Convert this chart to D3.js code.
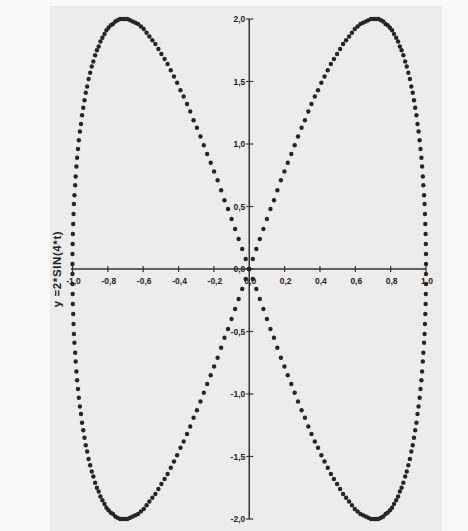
<!DOCTYPE html>
<html>
<head>
<meta charset="utf-8">
<script src="https://cdn.jsdelivr.net/npm/d3@7"></script>
<style>
  body { margin: 0; background: #fafafa; }
  svg { display: block; }
  .tick-lbl { font-family: "Liberation Sans", Arial, sans-serif; font-size: 8.5px; font-weight: bold; fill: #222; }
</style>
</head>
<body>
<div id="graf"></div>
<script>
// puntos de la curva (cuatro arcos)
const rightX = [0,.02,.04,.06,.08,.1,.12,.14,.159,.179,.199,.218,.238,.257,.276,.296,.315,.334,.352,.371,.389,.408,.426,.444,.462,.479,.497,.514,.531,.548,.565,.581,.597,.613,.629,.644,.659,.674,.689,.703,.717,.731,.745,.758,.771,.783,.796,.808,.819,.831,.842,.852,.862,.872,.882,.891,.9,.909,.917,.925,.932,.939,.946,.952,.958,.964,.969,.974,.978,.982,.985,.989,.992,.994,.996,.998,.999,1,1]
const leftX = [0,-.02,-.04,-.06,-.08,-.1,-.12,-.14,-.159,-.179,-.199,-.218,-.238,-.257,-.276,-.296,-.315,-.334,-.352,-.371,-.389,-.408,-.426,-.444,-.462,-.479,-.497,-.514,-.531,-.548,-.565,-.581,-.597,-.613,-.629,-.644,-.659,-.674,-.689,-.703,-.717,-.731,-.745,-.758,-.771,-.783,-.796,-.808,-.819,-.831,-.842,-.852,-.862,-.872,-.882,-.891,-.9,-.909,-.917,-.925,-.932,-.939,-.946,-.952,-.958,-.964,-.969,-.974,-.978,-.982,-.985,-.989,-.992,-.994,-.996,-.998,-.999,-1,-1]
const upperY = [0,.08,.16,.24,.32,.4,.48,.55,.63,.71,.78,.85,.92,.99,1.06,1.13,1.19,1.26,1.32,1.38,1.43,1.49,1.54,1.59,1.64,1.68,1.72,1.76,1.8,1.83,1.86,1.89,1.92,1.94,1.96,1.97,1.98,1.99,2,2,2,2,1.99,1.98,1.96,1.95,1.93,1.91,1.88,1.85,1.82,1.78,1.75,1.71,1.66,1.62,1.57,1.52,1.46,1.41,1.35,1.29,1.23,1.16,1.1,1.03,.96,.89,.82,.74,.67,.59,.52,.44,.36,.28,.2,.12,.04]
const lowerY = [0,-.08,-.16,-.24,-.32,-.4,-.48,-.55,-.63,-.71,-.78,-.85,-.92,-.99,-1.06,-1.13,-1.19,-1.26,-1.32,-1.38,-1.43,-1.49,-1.54,-1.59,-1.64,-1.68,-1.72,-1.76,-1.8,-1.83,-1.86,-1.89,-1.92,-1.94,-1.96,-1.97,-1.98,-1.99,-2,-2,-2,-2,-1.99,-1.98,-1.96,-1.95,-1.93,-1.91,-1.88,-1.85,-1.82,-1.78,-1.75,-1.71,-1.66,-1.62,-1.57,-1.52,-1.46,-1.41,-1.35,-1.29,-1.23,-1.16,-1.1,-1.03,-.96,-.89,-.82,-.74,-.67,-.59,-.52,-.44,-.36,-.28,-.2,-.12,-.04]

// etiquetas de los ejes
const xTicks = [-1, -0.8, -0.6, -0.4, -0.2, 0, 0.2, 0.4, 0.6, 0.8, 1]
const yTicks = [-2, -1.5, -1, -0.5, 0, 0.5, 1, 1.5, 2]
const yTitulo = "y =2*SIN(4*t)"

const anchoTotal = 468
const altoTotal = 531

const svg = d3.select("#graf")
  .append("svg")
  .attr("width", anchoTotal)
  .attr("height", altoTotal)

// fondo de papel escaneado
svg.append("rect").attr("width", anchoTotal).attr("height", altoTotal).attr("fill", "#f9f9f9")
svg.append("rect")
  .attr("x", 50).attr("y", 6)
  .attr("width", 392).attr("height", altoTotal - 6)
  .attr("fill", "#ececec")

// Escaladores
const x = d3.scaleLinear().domain([-1, 1]).range([72.5, 426])
const y = d3.scaleLinear().domain([-2, 2]).range([519, 19])

const fmt = (d) => d3.format(".1f")(d).replace(".", ",").replace("−", "-")

// eje x
const gx = svg.append("g")
gx.append("line")
  .attr("x1", x(-1) - 1.5).attr("x2", x(1))
  .attr("y1", y(0)).attr("y2", y(0))
  .attr("stroke", "#333").attr("stroke-width", 1.3)
gx.selectAll(".tx")
  .data(xTicks)
  .enter()
  .append("line")
  .attr("x1", (d) => x(d)).attr("x2", (d) => x(d))
  .attr("y1", y(0) - 3).attr("y2", y(0) + 3)
  .attr("stroke", "#333").attr("stroke-width", 1.2)
gx.selectAll("text")
  .data(xTicks)
  .enter()
  .append("text")
  .attr("class", "tick-lbl")
  .attr("x", (d) => x(d) + 1)
  .attr("y", y(0) + 15)
  .attr("text-anchor", "middle")
  .text(fmt)

// eje y
const gy = svg.append("g")
gy.append("line")
  .attr("x1", x(0)).attr("x2", x(0))
  .attr("y1", y(2)).attr("y2", y(-2))
  .attr("stroke", "#333").attr("stroke-width", 1.5)
gy.selectAll(".ty")
  .data(yTicks)
  .enter()
  .append("line")
  .attr("x1", x(0) - 3).attr("x2", x(0) + 4)
  .attr("y1", (d) => y(d)).attr("y2", (d) => y(d))
  .attr("stroke", "#333").attr("stroke-width", 1.2)
gy.selectAll("text")
  .data(yTicks)
  .enter()
  .append("text")
  .attr("class", "tick-lbl")
  .attr("x", x(0) - 4)
  .attr("y", (d) => y(d) + 3)
  .attr("text-anchor", "end")
  .text(fmt)

// titulo del eje y
svg.append("text")
  .attr("transform", `translate(61, ${y(0)}) rotate(-90)`)
  .attr("text-anchor", "middle")
  .attr("style", "font-family: 'Liberation Sans', Arial, sans-serif; font-size: 11.5px; font-weight: bold; letter-spacing: 0.6px; fill: #222")
  .text(yTitulo)

// puntos de los cuatro arcos
const arcos = [
  [rightX, upperY],
  [rightX, lowerY],
  [leftX, upperY],
  [leftX, lowerY],
]
const puntos = []
arcos.forEach(([xs, ys]) => {
  xs.forEach((v, i) => puntos.push({ x: v, y: ys[i] }))
})

svg.append("g")
  .selectAll("circle")
  .data(puntos)
  .enter()
  .append("circle")
  .attr("cx", (d) => x(d.x))
  .attr("cy", (d) => y(d.y))
  .attr("r", 2.2)
  .attr("fill", "#262626")
</script>
</body>
</html>
